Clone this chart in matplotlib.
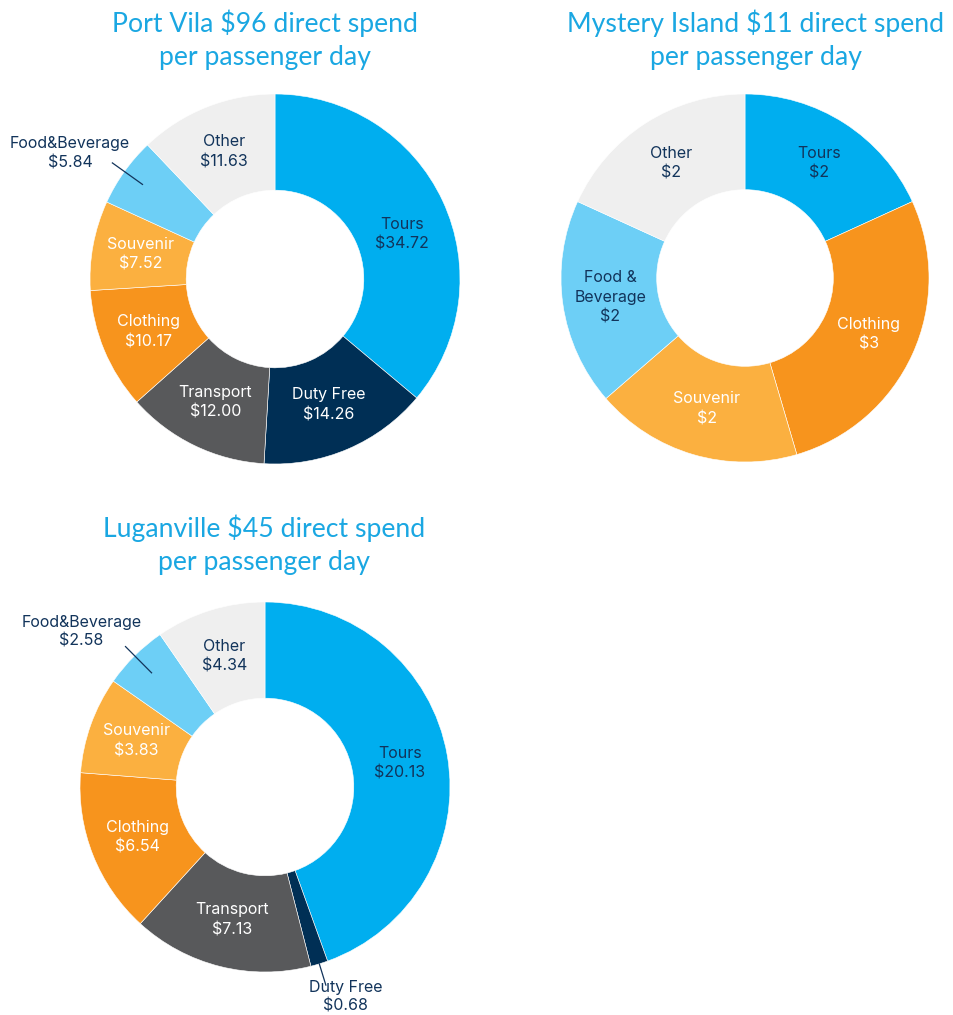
import matplotlib
matplotlib.use("Agg")
import matplotlib.pyplot as plt
import numpy as np

# figure is laid out in pixel units (954 x 1015)
W, H = 954, 1015

# --- data ---
pv_categories = ["Tours", "Duty Free", "Transport", "Clothing", "Souvenir", "Food&Beverage", "Other"]
pv_values = [34.72, 14.26, 12.00, 10.17, 7.52, 5.84, 11.63]

mi_categories = ["Tours", "Clothing", "Souvenir", "Food &\nBeverage", "Other"]
mi_values = [2, 3, 2, 2, 2]

lv_categories = ["Tours", "Duty Free", "Transport", "Clothing", "Souvenir", "Food&Beverage", "Other"]
lv_values = [20.13, 0.68, 7.13, 6.54, 3.83, 2.58, 4.34]

titles = [
    "Port Vila $96 direct spend\nper passenger day",
    "Mystery Island $11 direct spend\nper passenger day",
    "Luganville $45 direct spend\nper passenger day",
]

# --- styles ---
colors = {
    "Tours": "#00AEEF",
    "Duty Free": "#002F55",
    "Transport": "#58595B",
    "Clothing": "#F7941D",
    "Souvenir": "#FBB040",
    "Food&Beverage": "#6DCFF6",
    "Food &\nBeverage": "#6DCFF6",
    "Other": "#EFEFEF",
}
dark_text = "#12345B"
light_labels = {"Duty Free", "Transport", "Clothing", "Souvenir"}
title_color = "#1AA7E2"
label_font = ["Inter", "DejaVu Sans"]
title_font = ["Lato", "DejaVu Sans"]
LABEL_SIZE = 11.5

fig = plt.figure(figsize=(W / 100, H / 100), dpi=100)
ax = fig.add_axes([0, 0, 1, 1])


def donut(values, cats, cx, cy, r, fmt, outside, nudge=None):
    nudge = nudge or {}
    cy = H - cy
    wedges, _ = ax.pie(values, colors=[colors[c] for c in cats], radius=r,
                       center=(cx, cy), startangle=90, counterclock=False,
                       wedgeprops=dict(width=r * 0.52, edgecolor="white", linewidth=0.4))
    for w, c, v in zip(wedges, cats, values):
        mid = np.deg2rad((w.theta1 + w.theta2) / 2)
        txt = f"{c}\n{fmt(v)}"
        if c in outside:
            r0, r1, rt, da = outside[c]
            ax.plot([cx + r * r0 * np.cos(mid), cx + r * r1 * np.cos(mid)],
                    [cy + r * r0 * np.sin(mid), cy + r * r1 * np.sin(mid)],
                    color=dark_text, lw=0.9)
            ta = mid + np.deg2rad(da)
            ax.text(cx + r * rt * np.cos(ta), cy + r * rt * np.sin(ta), txt,
                    ha="center", va="center", fontsize=LABEL_SIZE, color=dark_text,
                    family=label_font, linespacing=1.35)
        else:
            col = "white" if c in light_labels else dark_text
            dx, dy = nudge.get(c, (0, 0))
            ax.text(cx + r * 0.74 * np.cos(mid) + dx, cy + r * 0.74 * np.sin(mid) - dy, txt,
                    ha="center", va="center", fontsize=LABEL_SIZE, color=col,
                    family=label_font, linespacing=1.4)


two_dp = lambda v: f"${v:.2f}"
whole = lambda v: f"${v:g}"

donut(pv_values, pv_categories, 275, 279, 185, two_dp,
      {"Food&Beverage": (0.88, 1.08, 1.3, 4)}, nudge={"Tours": (3, 13)})
donut(mi_values, mi_categories, 745, 278, 184, whole, {})
donut(lv_values, lv_categories, 265, 787, 185, two_dp,
      {"Food&Beverage": (0.87, 1.07, 1.3, 5),
       "Duty Free": (1.0, 1.12, 1.215, 4)})

for t, (x, y) in zip(titles, [(265, 40), (756, 40), (264, 545)]):
    ax.text(x, H - y, t, ha="center", va="center", fontsize=19.2,
            color=title_color, family=title_font, linespacing=1.38)

ax.set_xlim(0, W)
ax.set_ylim(0, H)
ax.set_aspect("equal")
ax.axis("off")

fig.savefig("out.png", dpi=100)
